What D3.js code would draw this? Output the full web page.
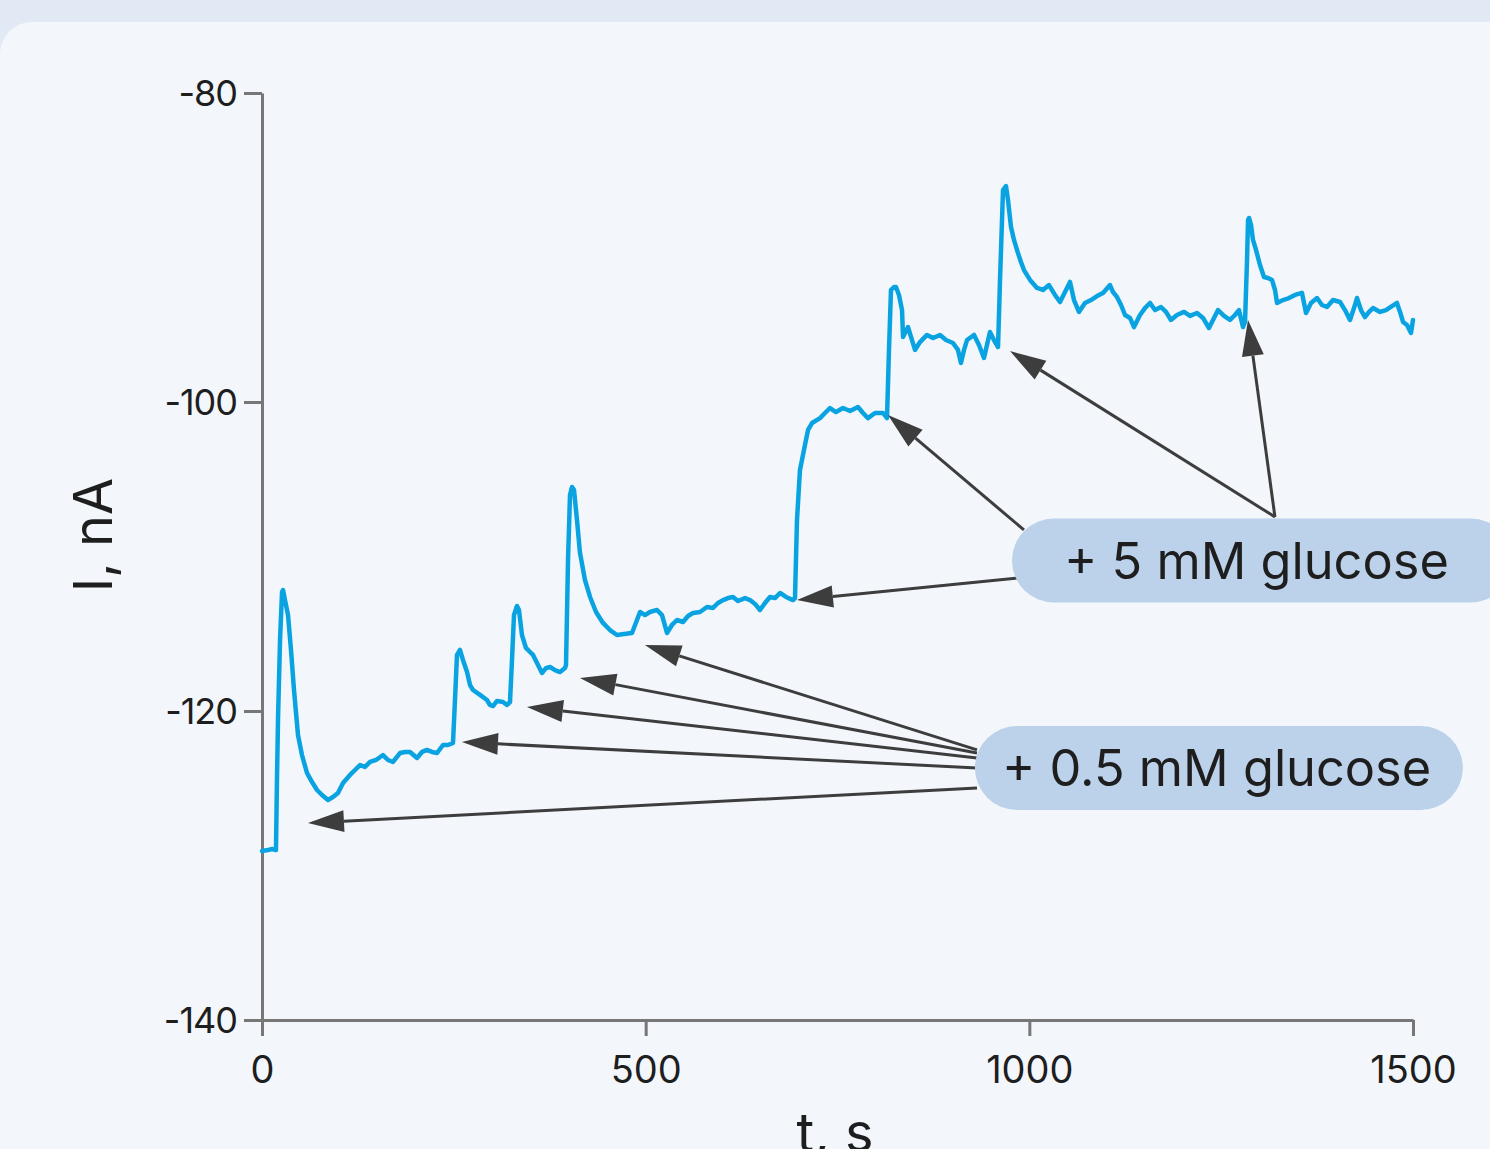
<!DOCTYPE html>
<html>
<head>
<meta charset="utf-8">
<script src="https://cdn.jsdelivr.net/npm/d3@7"></script>
<style>
  html, body { margin: 0; padding: 0; background: #e1e9f4; }
  text { font-family: Inter, "Noto Sans", sans-serif; fill: #1e1e1e; }
</style>
</head>
<body>
<div class="chart"></div>
<script>
// recorded trace: time (s) and current (nA)
var timeS = [
  0, 7.8, 13.0, 18.2, 19.5, 20.9, 23.5, 26.1, 27.4, 30.0, 33.9, 37.8, 41.7, 46.9, 52.1, 58.6, 65.2, 71.7, 78.2, 86.0,
  92.5, 99.0, 105.6, 114.7, 121.2, 127.7, 134.2, 140.8, 148.6, 157.7, 164.2, 170.7, 179.8, 186.4, 192.9, 202.0, 208.5, 215.0, 221.5, 228.1,
  235.9, 242.4, 248.9,
  251.5, 254.1, 258.0, 261.9, 267.2, 271.1, 275.0, 284.1, 293.2, 297.1, 301.0, 306.3, 314.1, 319.3, 323.2,
  325.8, 328.4, 332.3, 334.9, 338.8, 344.0, 349.3, 353.2, 358.4, 364.9, 370.1, 375.3, 381.8, 388.4, 394.9, 396.2,
  398.8, 401.4, 404.0, 406.6, 410.5, 414.4, 420.9, 427.5, 435.3, 444.4, 453.5, 462.6, 471.8, 482.2, 488.7, 492.6, 499.1, 505.6, 514.8, 521.3,
  527.8, 534.3, 540.8, 548.7, 555.2, 561.7, 570.8, 579.9, 587.7, 594.3, 600.8, 607.3, 613.8, 620.3, 629.5, 636.0, 642.5, 649.0, 655.5, 662.0,
  668.5, 675.1, 682.9, 692.0, 694.6,
  697.2, 701.1, 707.6, 711.6, 716.8, 727.2, 733.7, 740.2, 748.0, 757.2, 766.3, 776.7, 783.2, 789.7, 798.9, 809.3, 814.5,
  817.1, 819.7, 823.6, 826.2, 830.1, 834.1, 835.4, 841.9, 847.1, 851.0, 857.5, 866.6, 874.5, 883.6, 891.4, 900.5, 907.0, 910.9, 914.9, 918.8,
  927.9, 934.4, 940.9, 944.8, 948.7, 953.9, 959.2,
  961.8, 965.7, 969.6, 972.2, 976.1, 980.0, 985.2, 989.1, 993.0, 1000.9, 1010.0, 1017.8, 1025.6, 1033.4, 1040.0, 1046.5, 1053.0, 1058.2, 1064.7, 1072.5,
  1080.4, 1088.2, 1096.0, 1105.1, 1109.0, 1114.2, 1119.5, 1124.7, 1131.2, 1136.4, 1144.2, 1150.7, 1157.3, 1163.8, 1171.6, 1178.1, 1184.6, 1192.4, 1201.6, 1209.4,
  1218.5, 1226.3, 1234.1, 1240.7, 1245.9, 1253.7, 1261.5, 1268.0, 1273.2, 1278.4, 1281.1,
  1283.7, 1285.0, 1286.3, 1288.9, 1291.5, 1295.4, 1300.6, 1305.8, 1311.0, 1316.2, 1320.2, 1322.8, 1330.6, 1338.4, 1346.2, 1355.3, 1360.6, 1367.1, 1374.9, 1381.4,
  1387.9, 1395.7, 1404.9, 1411.4, 1417.9, 1423.1, 1427.0, 1432.2, 1437.4, 1442.7, 1447.9, 1457.0, 1464.8, 1472.6, 1479.1, 1483.1, 1487.0, 1492.2, 1497.4, 1500.0
];
var currentNA = [
  -129.06, -129.00, -128.93, -129.00, -124.47, -120.45, -115.40, -112.30, -112.17, -112.82, -113.79, -116.05, -118.64, -121.55, -122.85, -124.01, -124.60, -125.11, -125.44, -125.76,
  -125.57, -125.31, -124.66, -124.14, -123.82, -123.50, -123.62, -123.30, -123.17, -122.85, -123.17, -123.30, -122.72, -122.65, -122.65, -123.04, -122.65, -122.52, -122.65, -122.72,
  -122.20, -122.20, -122.07,
  -119.29, -116.37, -116.05, -116.70, -117.48, -118.32, -118.64, -118.96, -119.29, -119.61, -119.68, -119.35, -119.42, -119.61, -119.42,
  -116.70, -113.79, -113.20, -113.46, -115.08, -115.92, -116.18, -116.37, -116.89, -117.54, -117.22, -117.15, -117.35, -117.48, -117.22, -117.02,
  -110.23, -106.02, -105.50, -105.70, -107.64, -109.77, -111.52, -112.62, -113.59, -114.30, -114.76, -115.08, -115.02, -114.95, -114.11, -113.59, -113.79, -113.59, -113.46, -113.79,
  -114.95, -114.43, -114.11, -114.24, -113.85, -113.66, -113.59, -113.27, -113.33, -113.01, -112.82, -112.69, -112.62, -112.88, -112.69, -112.82, -113.07, -113.46, -113.01, -112.62,
  -112.69, -112.36, -112.62, -112.82, -112.69,
  -107.64, -104.40, -102.78, -101.81, -101.36, -101.04, -100.71, -100.39, -100.65, -100.39, -100.58, -100.32, -100.71, -101.04, -100.71, -100.71, -101.04,
  -96.63, -92.75, -92.56, -92.56, -93.07, -94.05, -95.79, -95.15, -95.99, -96.63, -96.12, -95.66, -95.86, -95.66, -95.99, -96.18, -96.63, -97.48, -96.63, -95.99,
  -95.66, -96.31, -97.15, -96.31, -95.47, -95.99, -96.44,
  -92.10, -86.28, -86.02, -86.93, -88.67, -89.51, -90.36, -90.94, -91.46, -92.10, -92.62, -92.75, -92.43, -93.07, -93.53, -92.88, -92.23, -93.40, -94.17, -93.59,
  -93.40, -93.14, -92.94, -92.43, -92.88, -93.20, -93.72, -94.37, -94.56, -95.15, -94.37, -93.92, -93.59, -94.05, -93.85, -94.17, -94.69, -94.37, -94.17, -94.43,
  -94.24, -94.56, -95.21, -94.56, -94.05, -94.43, -94.69, -94.37, -94.05, -95.15, -94.82,
  -90.81, -88.22, -88.09, -88.54, -89.51, -90.16, -91.13, -91.91, -91.97, -92.10, -92.75, -93.59, -93.40, -93.27, -93.07, -92.94, -94.24, -93.59, -93.27, -93.72,
  -93.85, -93.40, -93.53, -94.05, -94.69, -93.92, -93.27, -94.05, -94.50, -94.17, -93.92, -94.17, -94.05, -93.79, -93.59, -94.17, -94.82, -95.02, -95.53, -94.69
];

var xTicks = [0, 500, 1000, 1500];
var yTicks = [-80, -100, -120, -140];

// annotation boxes (left edge t, centre I, right edge t)
var labelText = ["+ 5 mM glucose", "+ 0.5 mM glucose"];
var labelLeftT = [977.4, 929.1];
var labelMidI = [-110.26, -123.69];
var labelRightT = [1630, 1565];

// arrows: start (t, I) -> tip (t, I)
var arrowFromT = [985.2, 993.0, 1320.1, 1320.1, 931.8, 931.8, 931.8, 931.8, 931.8];
var arrowFromI = [-111.39, -108.28, -107.44, -107.44, -124.98, -123.69, -123.04, -122.72, -122.52];
var arrowToT = [697.2, 815.8, 974.8, 1285.0, 59.9, 260.6, 345.3, 414.4, 499.1];
var arrowToI = [-112.82, -100.84, -96.70, -94.69, -127.25, -122.01, -119.74, -117.86, -115.73];

var svgWidth = 1490;
var svgHeight = 1149;

var svg = d3.select(".chart")
  .append("svg")
  .attr("width", svgWidth)
  .attr("height", svgHeight)
  .style("display", "block");

// page background: top band + rounded panel
svg.append("rect")
  .attr("width", svgWidth).attr("height", svgHeight)
  .attr("fill", "#e1e9f4");
svg.append("rect")
  .attr("x", 0).attr("y", 22)
  .attr("width", svgWidth + 60).attr("height", svgHeight + 60)
  .attr("rx", 32)
  .attr("fill", "#f3f7fc");

var xScale = d3.scaleLinear().domain([0, 1500]).range([262, 1413]);
var yScale = d3.scaleLinear().domain([-140, -80]).range([1020, 93]);

var bottomAxis = d3.axisBottom(xScale).tickValues(xTicks).tickFormat(d3.format("d"))
  .tickSizeInner(16).tickSizeOuter(0).tickPadding(20);
var leftAxis = d3.axisLeft(yScale).tickValues(yTicks)
  .tickSizeInner(18).tickSizeOuter(0).tickPadding(7);

var xg = svg.append("g")
  .attr("transform", `translate(0, ${yScale(-140)})`)
  .call(bottomAxis);
var yg = svg.append("g")
  .attr("transform", `translate(${xScale(0)}, 0)`)
  .call(leftAxis);

[xg, yg].forEach(function(g) {
  g.select(".domain").attr("stroke", "#777").attr("stroke-width", 3);
  g.selectAll(".tick line").attr("stroke", "#777").attr("stroke-width", 3);
  g.selectAll(".tick text")
    .attr("font-family", "Inter, sans-serif")
    .attr("font-size", 36)
    .attr("fill", "#1e1e1e");
});
xg.selectAll(".tick text").attr("dy", "0.71em").attr("font-size", 38);
yg.selectAll(".tick text").attr("dy", "0.36em").attr("letter-spacing", -1).text(d => "-" + Math.abs(d));

// trace
var trace = timeS.map(function(t, i) { return { t: t, i: currentNA[i] }; });
var line = d3.line().x(d => xScale(d.t)).y(d => yScale(d.i));

svg.append("path")
  .datum(trace)
  .attr("d", line)
  .attr("fill", "none")
  .attr("stroke", "#0aa3e2")
  .attr("stroke-width", 4.5)
  .attr("stroke-linejoin", "round")
  .attr("stroke-linecap", "round");

// arrows
var arrowG = svg.append("g");
arrowToT.forEach(function(tt, k) {
  var x0 = xScale(arrowFromT[k]), y0 = yScale(arrowFromI[k]);
  var x1 = xScale(tt), y1 = yScale(arrowToI[k]);
  var ang = Math.atan2(y1 - y0, x1 - x0);
  var headLen = 36, headW = 11;
  var bx = x1 - headLen * Math.cos(ang), by = y1 - headLen * Math.sin(ang);
  arrowG.append("line")
    .attr("x1", x0).attr("y1", y0)
    .attr("x2", bx).attr("y2", by)
    .attr("stroke", "#3d3d3d")
    .attr("stroke-width", 3);
  var px = -Math.sin(ang), py = Math.cos(ang);
  arrowG.append("polygon")
    .attr("points", [
      [x1, y1],
      [bx + px * headW, by + py * headW],
      [bx - px * headW, by - py * headW]
    ].map(p => p.join(",")).join(" "))
    .attr("fill", "#3d3d3d");
});

// label boxes
labelText.forEach(function(txt, k) {
  var x = xScale(labelLeftT[k]);
  var cy = yScale(labelMidI[k]);
  var h = 84;
  svg.append("rect")
    .attr("x", x).attr("y", cy - h / 2)
    .attr("width", xScale(labelRightT[k]) - x)
    .attr("height", h)
    .attr("rx", h / 2)
    .attr("fill", "#bcd1ea");
  svg.append("text")
    .attr("x", k === 0 ? x + 52 : x + 27)
    .attr("y", cy + 18)
    .attr("font-size", 50.5)
    .attr("fill", "#262626")
    .text(txt);
});

// axis titles
svg.append("text")
  .attr("transform", `translate(112, 535) rotate(-90)`)
  .attr("text-anchor", "middle")
  .attr("font-size", 54)
  .text("I, nA");

svg.append("text")
  .attr("x", 835)
  .attr("y", 1152)
  .attr("text-anchor", "middle")
  .attr("font-size", 54)
  .text("t, s");
</script>
</body>
</html>
